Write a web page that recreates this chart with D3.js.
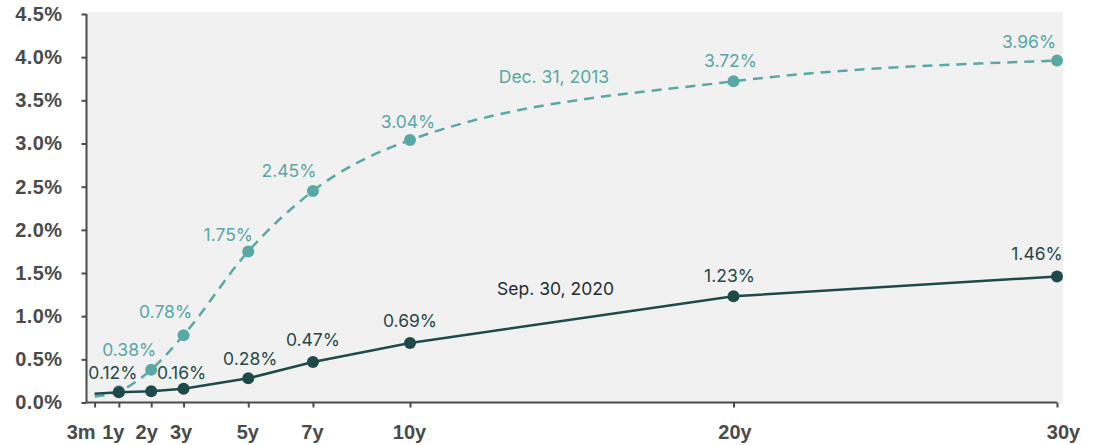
<!DOCTYPE html>
<html>
<head>
<meta charset="utf-8">
<script src="https://cdn.jsdelivr.net/npm/d3@7"></script>
<style>
  html, body { margin: 0; padding: 0; background: #ffffff; }
  svg { display: block; }
</style>
</head>
<body>
<svg id="chart" width="1097" height="445"></svg>
<script>
// Treasury yield curves: maturities in years, yields in percent
const maturities = [0.25, 1, 2, 3, 5, 7, 10, 20, 30];
const maturityLabels = ["3m", "1y", "2y", "3y", "5y", "7y", "10y", "20y", "30y"];
const yields2013 = [0.07, 0.13, 0.38, 0.78, 1.75, 2.45, 3.04, 3.72, 3.96];
const yields2020 = [0.10, 0.12, 0.13, 0.16, 0.28, 0.47, 0.69, 1.23, 1.46];
const yTicks = [0, 0.5, 1.0, 1.5, 2.0, 2.5, 3.0, 3.5, 4.0, 4.5];
const seriesNames = ["Dec. 31, 2013", "Sep. 30, 2020"];

// which points carry a dot and which a value label
const dotted2013 = [false, true, true, true, true, true, true, true, true];
const labelled2013 = [false, false, true, true, true, true, true, true, true];
const dotted2020 = [false, true, true, true, true, true, true, true, true];
const labelled2020 = [false, true, false, true, true, true, true, true, true];

// label nudges [dx, dy] from each dot
const nudge2013 = [[0,0],[0,0],[-22,-14],[-18,-17],[-20,-10],[-24,-14],[-2,-12],[-3,-14],[-28,-13]];
const nudge2020 = [[0,0],[-6,-13],[0,0],[-2,-10],[2,-13],[0,-16],[0,-16],[-4,-14],[-20,-16]];
const tickLabelShift = [-14, -6, -5, -3, -1, -1, -1, 1, 6];

const teal = "#58a8a5";
const dark = "#1e4a4a";
const axisColor = "#4a4a4a";

const svg = d3.select("#chart");
const plotLeft = 86.5, plotRight = 1057, plotTop = 14, plotBottom = 402.5;

const x = d3.scaleLinear().domain([0, 30]).range([plotLeft, plotRight]);
const y = d3.scaleLinear().domain([0, 4.5]).range([plotBottom, plotTop]);

// plot background
svg.append("rect")
  .attr("x", plotLeft).attr("y", plotTop - 2)
  .attr("width", plotRight - plotLeft + 6).attr("height", plotBottom - plotTop + 2)
  .attr("fill", "#f1f1f1");

// y axis
const yAxis = svg.append("g")
  .attr("transform", `translate(${plotLeft},0)`)
  .call(d3.axisLeft(y).tickValues(yTicks).tickSize(5).tickFormat(d => d.toFixed(1) + "%"));
yAxis.select(".domain").attr("stroke", axisColor).attr("stroke-width", 2)
  .attr("d", `M0,${plotTop}V${plotBottom}`);
yAxis.selectAll(".tick line").attr("stroke", axisColor).attr("stroke-width", 2);
yAxis.selectAll(".tick text")
  .attr("x", -24)
  .attr("font-family", "'Liberation Sans', Arial, sans-serif")
  .attr("font-weight", "bold")
  .attr("font-size", 20)
  .attr("letter-spacing", 0.4)
  .attr("fill", "#4a4a4a");

// x axis
const xAxis = svg.append("g")
  .attr("transform", `translate(0,${plotBottom})`)
  .call(d3.axisBottom(x).tickValues(maturities).tickSize(5)
    .tickFormat((d, i) => maturityLabels[i]));
xAxis.select(".domain").attr("stroke", axisColor).attr("stroke-width", 2)
  .attr("d", `M${plotLeft},0H${plotRight}`);
xAxis.selectAll(".tick line").attr("stroke", axisColor).attr("stroke-width", 2);
xAxis.selectAll(".tick text")
  .attr("y", 22)
  .attr("dy", "0.71em")
  .attr("dx", (d, i) => tickLabelShift[i])
  .attr("font-family", "'Liberation Sans', Arial, sans-serif")
  .attr("font-weight", "bold")
  .attr("font-size", 20)
  .attr("fill", "#4a4a4a");

// curves
const pts2013 = maturities.map((m, i) => ({ m, v: yields2013[i], i }));
const pts2020 = maturities.map((m, i) => ({ m, v: yields2020[i], i }));

const line2013 = d3.line().x(d => x(d.m)).y(d => y(d.v)).curve(d3.curveMonotoneX);
const line2020 = d3.line().x(d => x(d.m)).y(d => y(d.v));

svg.append("path").datum(pts2013)
  .attr("d", line2013)
  .attr("fill", "none").attr("stroke", teal)
  .attr("stroke-width", 2.5).attr("stroke-dasharray", "10,7");

svg.append("g").selectAll("circle")
  .data(pts2013.filter(d => dotted2013[d.i]))
  .join("circle")
  .attr("cx", d => x(d.m)).attr("cy", d => y(d.v)).attr("r", 6)
  .attr("fill", teal);

svg.append("path").datum(pts2020)
  .attr("d", line2020)
  .attr("fill", "none").attr("stroke", dark).attr("stroke-width", 2.5);

svg.append("g").selectAll("circle")
  .data(pts2020.filter(d => dotted2020[d.i]))
  .join("circle")
  .attr("cx", d => x(d.m)).attr("cy", d => y(d.v)).attr("r", 6)
  .attr("fill", dark);

// value labels
const labelFont = "Inter, 'Noto Sans', sans-serif";
const labelSize = 17.5;
svg.append("g").selectAll("text")
  .data(pts2013.filter(d => labelled2013[d.i]))
  .join("text")
  .attr("x", d => x(d.m) + nudge2013[d.i][0])
  .attr("y", d => y(d.v) + nudge2013[d.i][1])
  .attr("text-anchor", "middle")
  .attr("font-family", labelFont).attr("font-size", labelSize).attr("font-weight", 400)
  .attr("fill", teal)
  .text(d => d.v.toFixed(2) + "%");

svg.append("g").selectAll("text")
  .data(pts2020.filter(d => labelled2020[d.i]))
  .join("text")
  .attr("x", d => x(d.m) + nudge2020[d.i][0])
  .attr("y", d => y(d.v) + nudge2020[d.i][1])
  .attr("text-anchor", "middle")
  .attr("font-family", labelFont).attr("font-size", labelSize).attr("font-weight", 400)
  .attr("fill", "#27494a")
  .text(d => d.v.toFixed(2) + "%");

// series names
svg.append("text")
  .attr("x", x(14.45)).attr("y", y(3.70))
  .attr("text-anchor", "middle")
  .attr("font-family", labelFont).attr("font-size", labelSize)
  .attr("fill", teal).text(seriesNames[0]);
svg.append("text")
  .attr("x", x(14.5)).attr("y", y(1.24))
  .attr("text-anchor", "middle")
  .attr("font-family", labelFont).attr("font-size", labelSize)
  .attr("fill", "#1e2e2e").text(seriesNames[1]);
</script>
</body>
</html>
